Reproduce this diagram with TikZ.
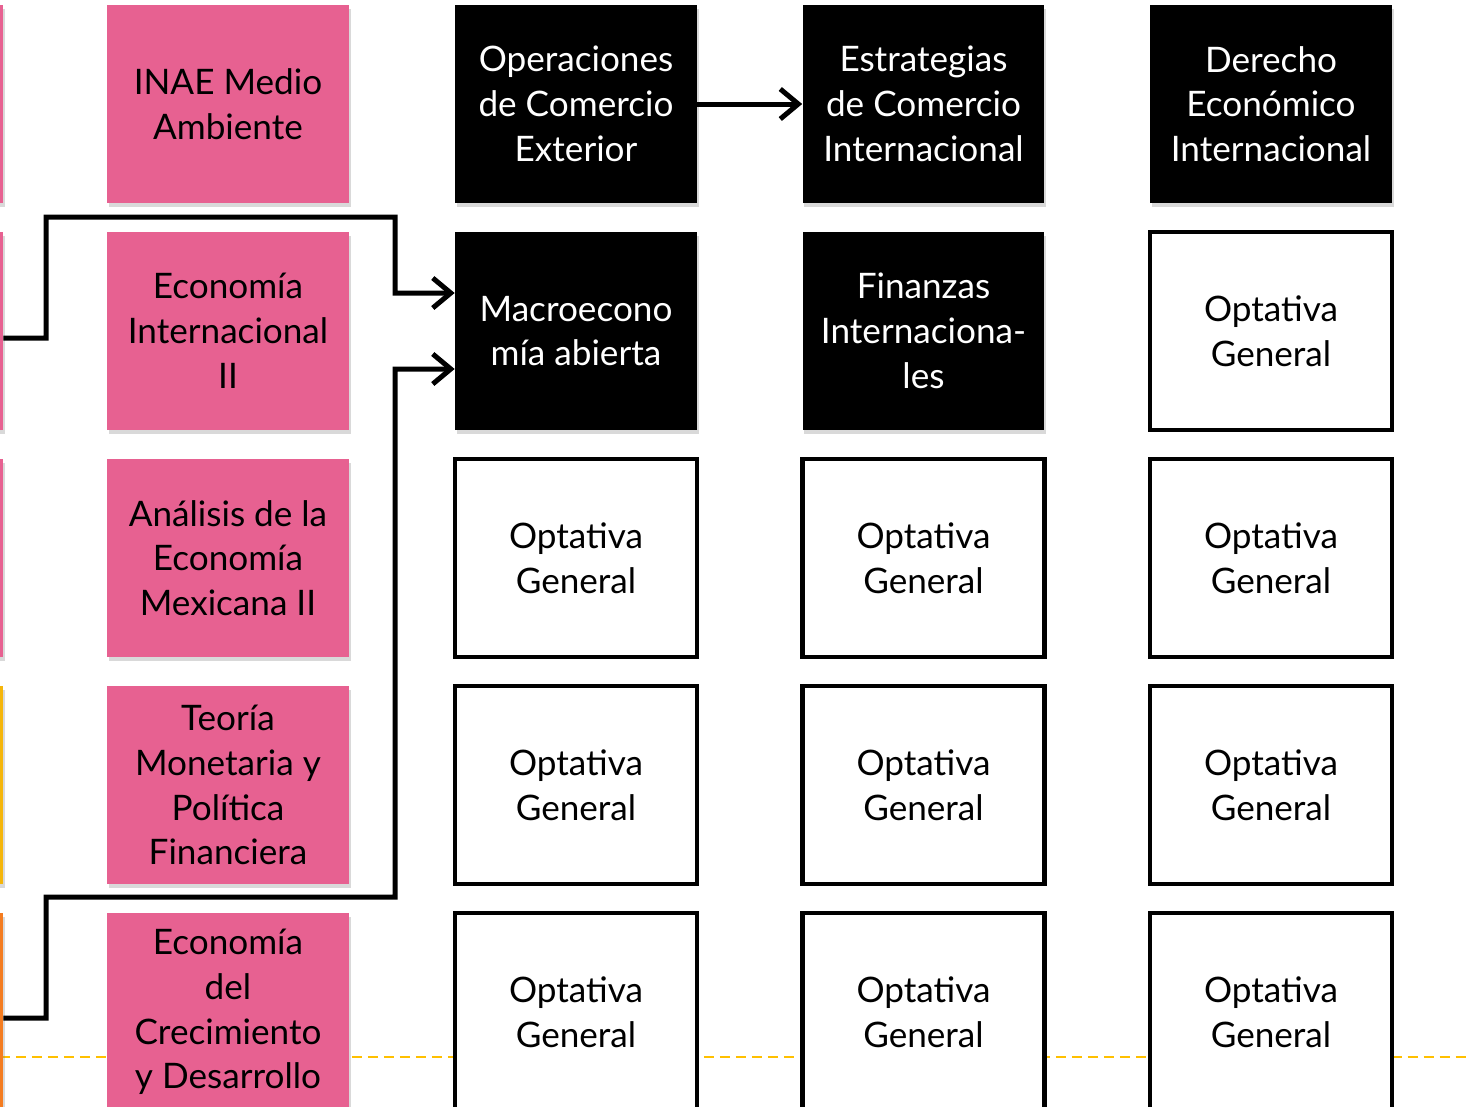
\documentclass[tikz,border=0pt]{standalone}
\usepackage{fontspec}
\setmainfont{Lato}
\usetikzlibrary{arrows.meta,shadows}
\definecolor{pinkFill}{RGB}{231,97,145}
\definecolor{goldFill}{RGB}{245,182,10}
\definecolor{orangeFill}{RGB}{244,124,32}
\definecolor{dashGold}{RGB}{255,192,0}

\begin{document}
\begin{tikzpicture}[x=0.02cm,y=-0.02cm,%%
  boxStyle/.style={minimum width=4.84cm,minimum height=3.96cm,inner sep=0pt,align=center,%%
    font=\fontsize{20}{25.5}\selectfont},%%
  shadowStyle/.style={drop shadow={shadow xshift=1pt,shadow yshift=-2pt,opacity=0.3}},%%
  pinkStyle/.style={boxStyle,shadowStyle,fill=pinkFill},%%
  blackStyle/.style={boxStyle,shadowStyle,fill=black,text=white},%%
  optStyle/.style={boxStyle,draw=black,line width=0.09cm,fill=white},%%
  lineStyle/.style={line width=0.1cm,-{Straight Barb[length=0.36cm,width=0.6cm]}},%%
  dashStyle/.style={dashGold,line width=0.04cm,dash pattern=on 0.2cm off 0.12cm}%%
]
%%
\useasboundingbox (0,0) rectangle (1470,1106);
\clip (0,0) rectangle (1470,1106);
%%
\pgfmathsetmacro{\xPrev}{-118}
\pgfmathsetmacro{\xOne}{228}
\pgfmathsetmacro{\xTwo}{576}
\pgfmathsetmacro{\xThree}{923.5}
\pgfmathsetmacro{\xFour}{1271}
%%
%% Dashed line behind the boxes.
\coordinate (dashLeft) at (0,1057);
\coordinate (dashRight) at (1470,1057);
\draw[dashStyle] (dashLeft) -- (dashRight);
%%
%% Boxes of the previous column, cut off at the left edge.
\node[pinkStyle] (prevOne) at (\xPrev,104) {};
\node[pinkStyle] (prevTwo) at (\xPrev,331) {};
\node[pinkStyle] (prevThree) at (\xPrev,558) {};
\node[boxStyle,shadowStyle,fill=goldFill] (prevFour) at (\xPrev,785) {};
\node[boxStyle,shadowStyle,fill=orangeFill] (prevFive) at (\xPrev,1012) {};
%%
%% Pink column.
\node[pinkStyle] (inae) at (\xOne,104) {INAE Medio\\Ambiente};
\node[pinkStyle] (ecoInt) at (\xOne,331) {Economía\\Internacional\\II};
\node[pinkStyle] (analisis) at (\xOne,558) {Análisis de la\\Economía\\Mexicana II};
\node[pinkStyle] (teoria) at (\xOne,785) {Teoría\\Monetaria y\\Política\\Financiera};
\node[pinkStyle] (crecimiento) at (\xOne,1012) {Economía\\del\\Crecimiento\\y Desarrollo};
%%
%% Black boxes.
\node[blackStyle] (operaciones) at (\xTwo,104) {Operaciones\\de Comercio\\Exterior};
\node[blackStyle] (estrategias) at (\xThree,104) {Estrategias\\de Comercio\\Internacional};
\node[blackStyle] (derecho) at (\xFour,104) {Derecho\\Económico\\Internacional};
\node[blackStyle] (macro) at (\xTwo,331) {Macroecono\\mía abierta};
\node[blackStyle] (finanzas) at (\xThree,331) {Finanzas\\Internaciona-\\les};
%%
%% Optional subjects.
\node[optStyle] (optTwoFour) at (\xFour,331) {Optativa\\General};
\foreach \col/\x in {Two/\xTwo,Three/\xThree,Four/\xFour}{
  \node[optStyle] (opt\col Three) at (\x,558) {Optativa\\General};
  \node[optStyle] (opt\col Four) at (\x,785) {Optativa\\General};
  \node[optStyle] (opt\col Five) at (\x,1012) {Optativa\\General};
}
%%
%% Connectors.
\draw[lineStyle] (operaciones) -- (estrategias);
\draw[lineStyle] ([yshift=-0.14cm]prevTwo.east) -| (46,217) -| (395,293) -- ([yshift=0.76cm]macro.west);
\draw[lineStyle] ([yshift=-0.12cm]prevFive.east) -| (46,897) -| (395,369) -- ([yshift=-0.76cm]macro.west);
\end{tikzpicture}
\end{document}
